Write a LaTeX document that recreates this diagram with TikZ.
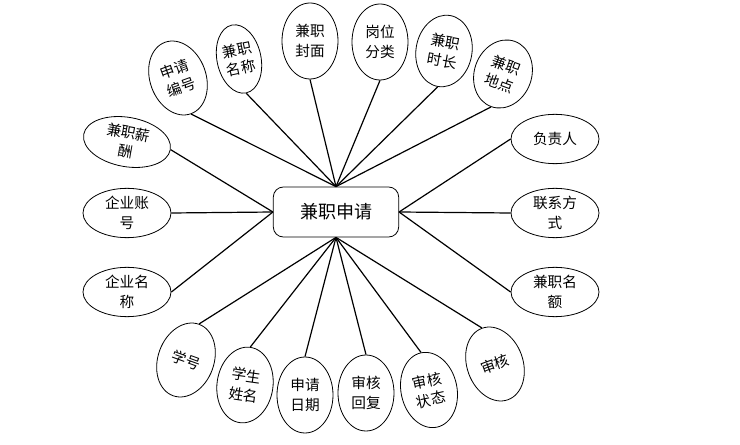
\documentclass[tikz,border=0pt]{standalone}
\usepackage{fontspec}
\newfontfamily\cjk{Noto Sans CJK SC}
\usetikzlibrary{shapes.geometric}
\definecolor{ink}{HTML}{000000}

\begin{document}
\begin{tikzpicture}[x=0.75pt,y=-0.75pt,font=\fontsize{11}{14.5}\selectfont\cjk,text=ink,
  attr/.style={draw=ink,ellipse,line width=0.6pt,inner sep=0pt,align=center,
    minimum width=42pt,minimum height=57pt},
  wide/.style={attr,minimum width=66pt,minimum height=37pt},
  link/.style={draw=ink,line width=0.9pt}]
  \useasboundingbox (0,0) rectangle (740,445);

  \node[draw=ink,line width=0.6pt,rounded corners=7.5pt,minimum width=94pt,
    minimum height=37.5pt,font=\fontsize{13.5}{16}\selectfont\cjk] (apply) at (336,212) {兼职申请};

  \node[attr,rotate=20] (sqbh) at (178,78) {申请\\编号};
  \node[attr,rotate=12,minimum width=33pt,minimum height=52pt] (jzmc) at (239,59) {兼职\\名称};
  \node[attr] (jzfm) at (310,41) {兼职\\封面};
  \node[attr] (gwfl) at (380,42) {岗位\\分类};
  \node[attr,rotate=-10,minimum height=54pt] (jzsc) at (444,51) {兼职\\时长};
  \node[attr,rotate=-20,minimum width=43pt,minimum height=52pt] (jzdd) at (503,74) {兼职\\地点};

  \node[wide,rotate=-10] (jzxc) at (127,142) {兼职薪\\酬};
  \node[wide] (qyzh) at (127,213) {企业账\\号};
  \node[wide] (qymc) at (127,292) {企业名\\称};

  \node[wide] (fzr) at (555,139) {负责人};
  \node[wide] (lxfs) at (555,213) {联系方\\式};
  \node[wide] (jzme) at (555,292) {兼职名\\额};

  \node[attr,rotate=-20] (xh) at (186,360) {学号};
  \node[attr,rotate=-8] (xsxm) at (245,385) {学生\\姓名};
  \node[attr] (sqrq) at (305,395) {申请\\日期};
  \node[attr] (shhf) at (366,393) {审核\\回复};
  \node[attr,rotate=12] (shzt) at (429,390) {审核\\状态};
  \node[attr,rotate=20] (sh) at (495,364) {审核};

  \draw[link] (apply.north) -- (sqbh.south);
  \draw[link] (apply.north) -- (jzmc.south);
  \draw[link] (apply.north) -- (jzfm.south);
  \draw[link] (apply.north) -- (gwfl.south);
  \draw[link] (apply.north) -- (jzsc.south);
  \draw[link] (apply.north) -- (jzdd.south);

  \draw[link] (apply.west) -- (jzxc.east);
  \draw[link] (apply.west) -- (qyzh.east);
  \draw[link] (apply.west) -- (qymc.east);

  \draw[link] (apply.east) -- (fzr.west);
  \draw[link] (apply.east) -- (lxfs.west);
  \draw[link] (apply.east) -- (jzme.west);

  \draw[link] (apply.south) -- (xh.north);
  \draw[link] (apply.south) -- (xsxm.north);
  \draw[link] (apply.south) -- (sqrq.north);
  \draw[link] (apply.south) -- (shhf.north);
  \draw[link] (apply.south) -- (shzt.north);
  \draw[link] (apply.south) -- (sh.north);
\end{tikzpicture}
\end{document}
